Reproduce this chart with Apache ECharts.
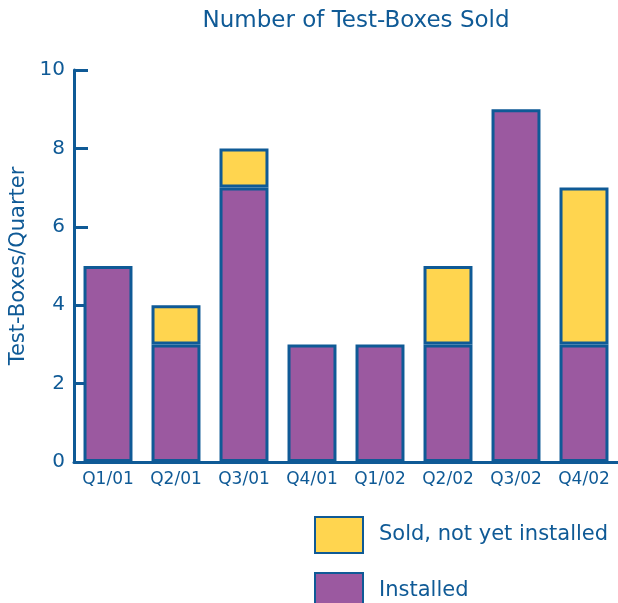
<!DOCTYPE html>
<html>
<head>
<meta charset="utf-8">
<script src="https://cdn.jsdelivr.net/npm/echarts@6/dist/echarts.min.js"></script>
<style>
* { margin: 0; padding: 0; }
</style>
</head>
<body>
<div id="main" style="width:618px;height:603px;background:white;"></div>
<script>
var quarters = ["Q1/01", "Q2/01", "Q3/01", "Q4/01", "Q1/02", "Q2/02", "Q3/02", "Q4/02"];
var installed = [5, 3, 7, 3, 3, 3, 9, 3];
var notInstalled = [0, 1, 1, 0, 0, 2, 0, 4];
var yTicks = [0, 2, 4, 6, 8, 10];

var blue = "#0f5a96";
var fontFam = "DejaVu Sans";

// legend text style shared by both legend blocks
var legendText = { color: blue, fontFamily: fontFam, fontSize: 21, padding: [0, 0, 0, 11] };

var chart = echarts.init(document.getElementById("main"));
chart.setOption({
  animation: false,
  title: {
    text: "Number of Test-Boxes Sold",
    left: 351,
    textAlign: "center",
    top: 5,
    textStyle: { color: blue, fontFamily: fontFam, fontWeight: "normal", fontSize: 23 }
  },
  legend: [
    {
      left: 309, top: 511,
      itemWidth: 48, itemHeight: 36,
      icon: "rect",
      data: ["Sold, not yet installed"],
      textStyle: legendText
    },
    {
      left: 309, top: 567,
      itemWidth: 48, itemHeight: 36,
      icon: "rect",
      data: ["Installed"],
      textStyle: legendText
    }
  ],
  grid: { left: 74, right: 0, top: 70, bottom: 141, outerBoundsMode: "none" },
  xAxis: {
    type: "category",
    data: quarters,
    axisLine: { lineStyle: { color: blue, width: 3 } },
    axisTick: { inside: true, length: 6, lineStyle: { color: blue, width: 2 } },
    axisLabel: { color: blue, fontFamily: fontFam, fontSize: 17, margin: 9 }
  },
  yAxis: {
    type: "value",
    min: 0,
    max: 10,
    interval: 2,
    name: "Test-Boxes/Quarter",
    nameLocation: "middle",
    nameGap: 42,
    nameTextStyle: { color: blue, fontFamily: fontFam, fontSize: 21 },
    axisLine: { show: true, lineStyle: { color: blue, width: 3 } },
    axisTick: { show: true, inside: true, length: 14, lineStyle: { color: blue, width: 3 } },
    axisLabel: {
      color: blue, fontFamily: fontFam, fontSize: 20, margin: 9,
      formatter: function (v) { return yTicks.indexOf(v) >= 0 ? String(v) : ""; }
    },
    splitLine: { show: false }
  },
  series: [
    {
      name: "Installed",
      type: "bar",
      stack: "total",
      barCategoryGap: "28%",
      data: installed,
      itemStyle: { color: "#9b59a0", borderColor: blue, borderWidth: 3 }
    },
    {
      name: "Sold, not yet installed",
      type: "bar",
      stack: "total",
      data: notInstalled.map(function (v) { return v === 0 ? null : v; }),
      itemStyle: { color: "#ffd54f", borderColor: blue, borderWidth: 3 }
    }
  ]
});
</script>
</body>
</html>
